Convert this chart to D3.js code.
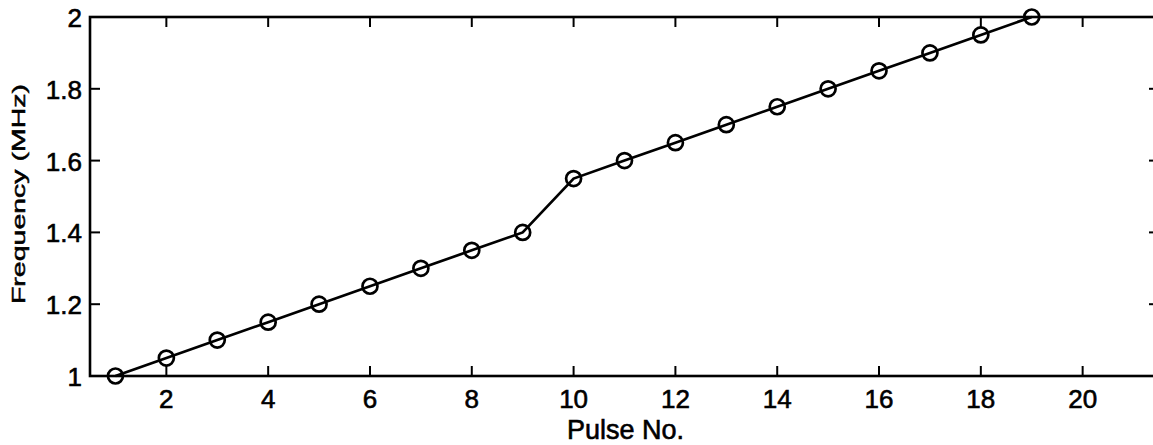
<!DOCTYPE html>
<html><head><meta charset="utf-8">
<script src="https://cdn.jsdelivr.net/npm/d3@7"></script>
<style>body{margin:0;background:#fff;}svg{display:block;}text{font-family:"Liberation Sans",Arial,sans-serif;fill:#000;}</style>
</head><body>
<script>
const pulses = [1,2,3,4,5,6,7,8,9,10,11,12,13,14,15,16,17,18,19];
const freqs = [1.00,1.05,1.10,1.15,1.20,1.25,1.30,1.35,1.40,1.55,1.60,1.65,1.70,1.75,1.80,1.85,1.90,1.95,2.00];
const xTicks = [2,4,6,8,10,12,14,16,18,20];
const yTicks = [1,1.2,1.4,1.6,1.8,2];
const xLabel = "Pulse No.";
const yLabel = "Frequency (MHz)";

const W = 1153, H = 445;
const m = {left: 90, top: 17, right: 1159, bottom: 376};
const svg = d3.select("body").append("svg").attr("width", W).attr("height", H);
const x = d3.scaleLinear().domain([0.5, 21.5]).range([m.left, m.right]);
const y = d3.scaleLinear().domain([1, 2]).range([m.bottom, m.top]);
const tl = 10;
const g = svg.append("g");

// box
g.append("rect").attr("x", m.left).attr("y", m.top).attr("width", m.right - m.left).attr("height", m.bottom - m.top)
  .attr("fill", "none").attr("stroke", "#000").attr("stroke-width", 2.6);

xTicks.forEach(t => {
  g.append("line").attr("x1", x(t)).attr("x2", x(t)).attr("y1", m.bottom).attr("y2", m.bottom - tl).attr("stroke", "#000").attr("stroke-width", 2);
  g.append("line").attr("x1", x(t)).attr("x2", x(t)).attr("y1", m.top).attr("y2", m.top + tl).attr("stroke", "#000").attr("stroke-width", 2);
  g.append("text").attr("x", x(t)).attr("y", 408).attr("text-anchor", "middle")
    .attr("font-size", 26).attr("stroke", "#000").attr("stroke-width", 0.6).text(d3.format("d")(t));
});
yTicks.forEach(t => {
  g.append("line").attr("x1", m.left).attr("x2", m.left + tl).attr("y1", y(t)).attr("y2", y(t)).attr("stroke", "#000").attr("stroke-width", 2);
  g.append("line").attr("x1", m.right).attr("x2", m.right - tl).attr("y1", y(t)).attr("y2", y(t)).attr("stroke", "#000").attr("stroke-width", 2);
  g.append("text").attr("x", 82).attr("y", y(t) + 10).attr("text-anchor", "end")
    .attr("font-size", 26).attr("stroke", "#000").attr("stroke-width", 0.6).text(t === 1 || t === 2 ? d3.format("d")(t) : d3.format(".1f")(t));
});

// labels
g.append("text").attr("x", (m.left + m.right) / 2 + 1).attr("y", 439).attr("text-anchor", "middle")
  .attr("font-size", 27).attr("stroke", "#000").attr("stroke-width", 0.6).text(xLabel);
g.append("text").attr("transform", `translate(25,194) rotate(-90) scale(1.5,1)`).attr("text-anchor", "middle")
  .attr("font-size", 19).attr("stroke", "#000").attr("stroke-width", 0.5).text(yLabel);

const data = pulses.map((p, i) => ({p, f: freqs[i]}));
g.append("path").datum(data).attr("fill", "none").attr("stroke", "#000").attr("stroke-width", 2.7)
  .attr("d", d3.line().x(d => x(d.p)).y(d => y(d.f)));
g.selectAll("circle.pt").data(data).enter().append("circle").attr("class", "pt")
  .attr("cx", d => x(d.p)).attr("cy", d => y(d.f)).attr("r", 7.5)
  .attr("fill", "none").attr("stroke", "#000").attr("stroke-width", 2.7);
</script>
</body></html>
